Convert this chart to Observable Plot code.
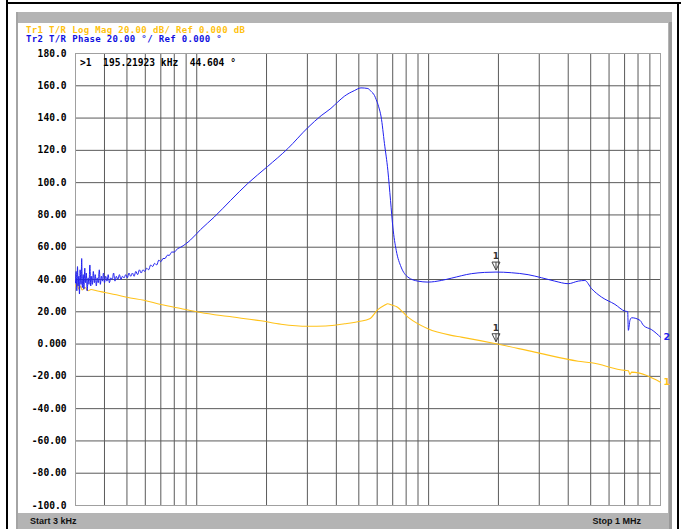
<!DOCTYPE html>
<html>
<head>
<meta charset="utf-8">
<script src="https://cdn.jsdelivr.net/npm/d3@7"></script>
<script src="https://cdn.jsdelivr.net/npm/@observablehq/plot@0.6"></script>
<style>
  html, body { margin: 0; padding: 0; background: #fff; }
  #page { position: relative; width: 681px; height: 529px; overflow: hidden; background: #fff; }
  .abs { position: absolute; }
  .mono { font-family: "DejaVu Sans Mono", monospace; font-weight: bold; font-size: 9.6px; line-height: 9px; white-space: pre; }
  .hdr { font-family: "DejaVu Sans Mono", monospace; font-weight: bold; font-size: 9px; letter-spacing: 0.35px; line-height: 8px; height: 8px; white-space: pre; }
  .bar { font-family: "Liberation Sans", Arial, sans-serif; font-weight: bold; font-size: 9px; color: #111; white-space: pre; }
</style>
</head>
<body>
<div id="page">
  <div class="abs" style="left:6px;top:0;width:2px;height:529px;background:#000"></div>
  <div class="abs" style="left:6px;top:2px;width:675px;height:2px;background:#000"></div>
  <div class="abs" style="left:677px;top:2px;width:2px;height:527px;background:#000"></div>
  <div class="abs" style="left:16px;top:12px;width:656px;height:517px;background:#b4b4b4"></div>
  <div class="abs" style="left:669px;top:22px;width:3px;height:507px;background:#9a9a9a"></div>
  <div class="abs" style="left:16px;top:12px;width:2px;height:517px;background:#a4a4a4"></div>
  <div class="abs" style="left:18px;top:23px;width:650px;height:490px;background:#fff"></div>
  <div id="tr1" class="abs hdr" style="left:26px;top:26px;color:#ffc20e"></div>
  <div id="tr2" class="abs hdr" style="left:26px;top:35px;color:#1010e0"></div>
  <div id="chart" class="abs" style="left:0;top:0"></div>
  <div id="readout" class="abs mono" style="left:80px;top:58px;color:#000"></div>
  <div id="start" class="abs bar" style="left:30px;top:516px"></div>
  <div id="stop" class="abs bar" style="right:40px;top:516px"></div>
</div>
<script>
// ---- Text ----
const tr1Label = "Tr1 T/R Log Mag 20.00 dB/ Ref 0.000 dB";
const tr2Label = "Tr2 T/R Phase 20.00 \u00b0/ Ref 0.000 \u00b0";
const startLabel = "Start 3 kHz";
const stopLabel = "Stop 1 MHz";

// ---- Axis ----
const yTickValues = [180, 160, 140, 120, 100, 80, 60, 40, 20, 0, -20, -40, -60, -80, -100];
const yTickLabels = ["180.0", "160.0", "140.0", "120.0", "100.0", "80.00", "60.00", "40.00", "20.00", "0.000", "-20.00", "-40.00", "-60.00", "-80.00", "-100.0"];
const xGridKHz = [4, 5, 6, 7, 8, 9, 10, 20, 30, 40, 50, 60, 70, 80, 90, 100, 200, 300, 400, 500, 600, 700, 800, 900];

// ---- Trace 2: Phase (deg) vs frequency (kHz) ----
const phaseFreqKHz = [
  3.00, 3.02, 3.04, 3.06, 3.08, 3.10, 3.12, 3.14, 3.17, 3.19, 3.21, 3.24, 3.26, 3.29, 3.31, 3.34,
  3.37, 3.40, 3.43, 3.46, 3.49, 3.52, 3.55, 3.58, 3.62, 3.65, 3.69, 3.72, 3.76, 3.80, 3.84, 3.88,
  3.92, 3.96, 4.00, 4.05, 4.10, 4.15, 4.20, 4.26, 4.32, 4.38, 4.44, 4.50, 4.57, 4.64, 4.71, 4.78,
  4.86, 4.94, 5.02, 5.10, 5.19, 5.28, 5.37, 5.46, 5.56, 5.66, 5.76, 5.86, 5.97, 6.08, 6.20, 6.33,
  6.45, 6.58, 6.72, 6.86, 7.00, 7.15, 7.30, 7.46, 7.62, 7.80, 8.00, 8.25, 8.53,
  9.4, 10.4, 11.9, 14.0, 16.6, 20.2, 24.7, 30.1, 34.4, 37.9, 40.6, 43.3, 47.8, 51.1, 54.7, 56.5,
  58.4, 59.4, 60.9, 62.4, 64.5, 66.7, 68.5, 70.1, 72.5, 76.1, 81.4, 89.9, 99.3, 113.4, 125.2, 152.8,
  174.4, 195.2, 227.4, 268.5, 306.6, 350, 400, 441.8, 471.8, 504.4, 557, 636, 702.6, 721.8, 726.8,
  738.4, 751, 815.8, 843.7, 916.2, 1000
];
const phaseDeg = [
  38, 45, 33, 48, 36, 42, 31, 46, 37, 53, 35, 43, 34, 47, 38, 44,
  33, 41, 37, 49, 36, 42, 37, 45, 38, 43, 36, 41, 38, 46, 37, 42,
  39, 44, 38, 42, 39, 43, 38, 41, 40, 44, 39, 42, 40, 43, 40, 42,
  41, 43, 41, 44, 42, 44, 42, 45, 43, 46, 44, 46, 45, 47, 46, 49,
  48, 50, 49, 52, 51, 53, 53, 55, 55, 57, 57, 59, 60,
  64.5, 71, 78.7, 89, 99.5, 110, 121.1, 134, 141.5, 146, 150, 153.5, 157, 158.7, 158.3, 156.5,
  154, 151.5, 147, 140.7, 124.2, 107.7, 89, 72.5, 58, 47.7, 41.5, 39, 38.4, 39.4, 40.8, 43.6,
  44.4, 44.6, 44.2, 43, 41.1, 39, 37.4, 39, 39.4, 34.3, 29.1, 24.6, 20.4, 20.1, 8.5,
  14.7, 16.3, 14.7, 11.6, 8.9, 4.3
];

// ---- Trace 1: Log Mag (dB) vs frequency (kHz) ----
const magFreqKHz = [
  3.00, 3.05, 3.10, 3.15, 3.20, 3.30, 3.40, 3.50, 3.70, 4.00, 4.50, 5.00, 5.93, 7.00, 8.53, 10.4,
  13.5, 18.9, 23.1, 30.1, 36.0, 43.5, 50.0, 55.7, 60.4, 64.5, 66.7, 68.5, 70.0, 72.5, 81.4, 99.3,
  125.2, 138.3, 195.2, 286.8, 441.8, 504.4, 702.6, 726.8, 738.4, 751, 1000
];
const magDB = [
  36, 37.5, 34, 36, 33.5, 35, 33, 33.8, 33, 32, 30.5, 29, 27.1, 24.5, 22, 19.6,
  17.2, 14.4, 12.3, 11, 11.2, 12.6, 14, 15.7, 21.3, 24, 25, 24.5, 24, 23.3, 16.7, 9.5,
  5.4, 4.3, 0.2, -5, -10.6, -11.6, -16.3, -16.5, -18.8, -17.4, -23.6
];

// ---- Marker 1 ----
const markerFreqKHz = 195.21923;
const markerPhase = 44.604;
const markerMag = 0.2;

const phase = phaseFreqKHz.map((f, i) => ({f, v: phaseDeg[i]}));
const mag = magFreqKHz.map((f, i) => ({f, v: magDB[i]}));
const markers = [{f: markerFreqKHz, v: markerPhase}, {f: markerFreqKHz, v: markerMag}];
const labelMap = new Map(yTickValues.map((v, i) => [v, yTickLabels[i]]));
const innerGrid = yTickValues.slice(1, -1);

document.getElementById("tr1").textContent = tr1Label;
document.getElementById("tr2").textContent = tr2Label;
document.getElementById("start").textContent = startLabel;
document.getElementById("stop").textContent = stopLabel;
document.getElementById("readout").textContent =
  ">1  " + markerFreqKHz.toFixed(5) + " kHz  " + markerPhase.toFixed(3) + " \u00b0";

const markerGlyph = {
  draw(ctx) {
    ctx.moveTo(-4, -10); ctx.lineTo(4, -10); ctx.lineTo(0, -2); ctx.closePath();
    ctx.moveTo(0, -10); ctx.lineTo(0, -2);
  }
};

const blue = "#2222f0";
const gold = "#ffc21a";

const chart = Plot.plot({
  width: 681,
  height: 529,
  marginLeft: 75,
  marginRight: 21,
  marginTop: 53,
  marginBottom: 24,
  x: {type: "log", domain: [3, 1000], axis: null},
  y: {domain: [-100, 180], axis: null},
  style: {background: "transparent", fontFamily: "DejaVu Sans Mono", fontSize: "9.6px", fontWeight: "bold", color: "#000", overflow: "visible"},
  marks: [
    Plot.ruleX(xGridKHz, {stroke: "#5a5a5a", strokeWidth: 1}),
    Plot.ruleY(innerGrid, {stroke: "#5a5a5a", strokeWidth: 1}),
    Plot.frame({stroke: "#a0a0a0"}),
    Plot.axisY(yTickValues, {label: null, tickSize: 0, tickPadding: 9, tickFormat: d => labelMap.get(d), fill: "#000"}),
    Plot.line(mag, {x: "f", y: "v", stroke: gold, strokeWidth: 1.1, curve: "monotone-x"}),
    Plot.line(phase, {x: "f", y: "v", stroke: blue, strokeWidth: 1, curve: "monotone-x"}),
    Plot.dot(markers, {x: "f", y: "v", symbol: markerGlyph, stroke: "#444", fill: "none", strokeWidth: 1}),
    Plot.text(markers, {x: "f", y: "v", text: () => "1", dy: -16, fill: "#333", fontFamily: "DejaVu Sans", fontSize: 9, fontWeight: "bold"}),
    Plot.text([phase[phase.length - 1]], {x: "f", y: "v", text: () => "2", dx: 3, textAnchor: "start", fill: blue, fontFamily: "DejaVu Sans", fontSize: 9.5, fontWeight: "bold"}),
    Plot.text([mag[mag.length - 1]], {x: "f", y: "v", text: () => "1", dx: 3, textAnchor: "start", fill: gold, fontFamily: "DejaVu Sans", fontSize: 9.5, fontWeight: "bold"})
  ]
});
document.getElementById("chart").appendChild(chart);
</script>
</body>
</html>
